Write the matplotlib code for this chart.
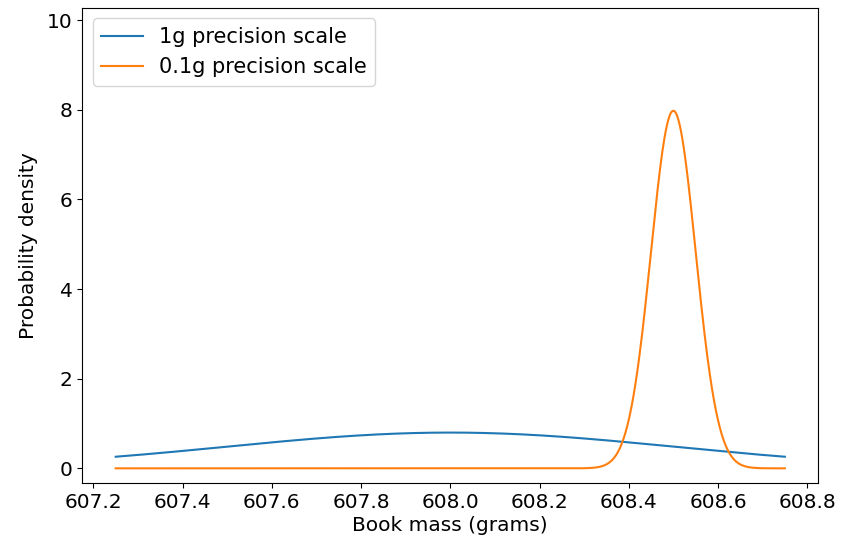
import numpy as np
import matplotlib.pyplot as plt

# Measurement model for each scale: mean reading and standard deviation (grams)
scale_labels = ["1g precision scale", "0.1g precision scale"]
scale_means = [608.0, 608.5]
scale_sds = [0.5, 0.05]
mass_range = [607.25, 608.75]


def normal_pdf(x, mu, sd):
    return np.exp(-0.5 * ((x - mu) / sd) ** 2) / (sd * np.sqrt(2 * np.pi))


masses = np.linspace(mass_range[0], mass_range[1], 1000)

fig = plt.figure(figsize=(8.48, 5.38), dpi=100)
ax = fig.add_axes([0.097, 0.102, 0.868, 0.883])
for label, mu, sd in zip(scale_labels, scale_means, scale_sds):
    ax.plot(masses, normal_pdf(masses, mu, sd), label=label, linewidth=1.5)

ax.set_ylim(-0.33, 10.27)
ax.set_xticks(np.arange(607.2, 608.81, 0.2))
ax.set_xlabel("Book mass (grams)", fontsize=14.5, labelpad=3)
ax.set_ylabel("Probability density", fontsize=14.5, labelpad=6)
ax.tick_params(labelsize=14.5)
ax.legend(loc="upper left", fontsize=15)
fig.savefig("out.png", dpi=100)
